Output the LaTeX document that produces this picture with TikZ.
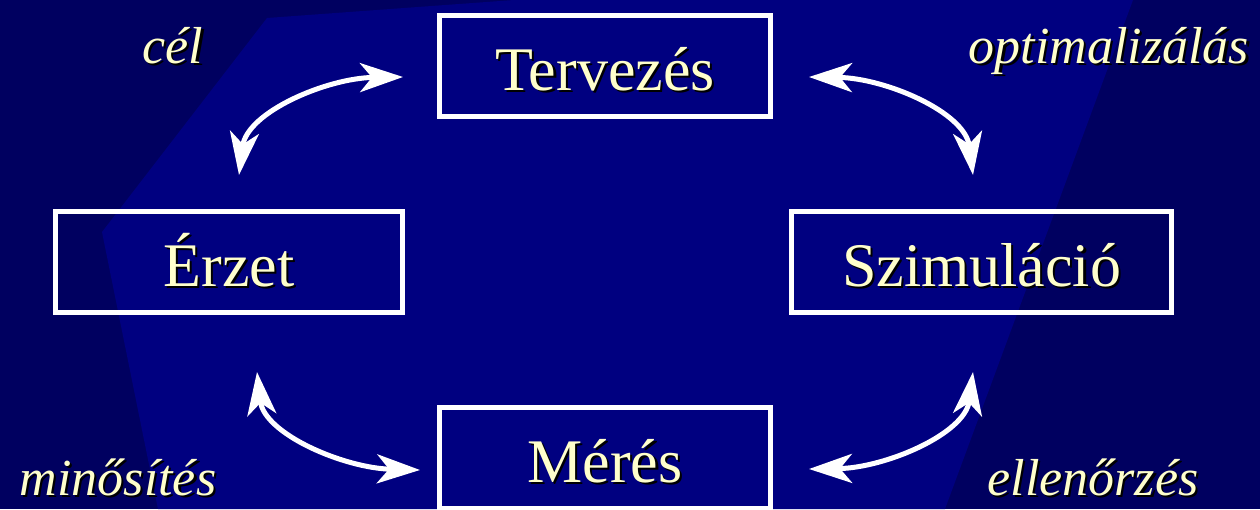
\documentclass[tikz,border=0pt]{standalone}
\usepackage{fontspec}
\setmainfont{Liberation Serif}
\usetikzlibrary{arrows.meta}
\definecolor{bgdark}{RGB}{0,0,96}
\definecolor{bglight}{RGB}{0,0,128}
\definecolor{txtyellow}{RGB}{255,255,204}
\newcommand\shtext[1]{\makebox[0pt][l]{\hspace{2.2pt}\raisebox{-2.2pt}{\color{black}#1}}{\color{txtyellow}#1}}
\tikzset{
  stagebox/.style={draw=white, line width=5pt, inner sep=0pt, minimum height=101pt,
    font=\fontsize{62}{66}\selectfont, text height=52pt, text depth=4pt},
  looplabel/.style={inner sep=0pt, anchor=base, font=\fontsize{52}{56}\selectfont\itshape},
  cyclearrow/.style={draw=white, line width=5pt,
    {Stealth[length=43pt,width=29pt,inset=12pt]}-{Stealth[length=43pt,width=29pt,inset=12pt]}}
}
\begin{document}
\begin{tikzpicture}[x=1pt,y=-1pt]
\useasboundingbox (0,0) rectangle (1260,509);
\fill[bgdark] (0,0) rectangle (1260,509);
\fill[bglight] (267,18) -- (514,0) -- (1133,0) -- (945,509) -- (158,509) -- (102,232) -- cycle;

\node[stagebox, minimum width=331pt] (terv) at (605,66) {\shtext{Tervezés}};
\node[stagebox, minimum width=347pt] (erzet) at (229,262) {\shtext{Érzet}};
\node[stagebox, minimum width=380pt] (szim) at (981.5,262) {\shtext{Szimuláció}};
\node[stagebox, minimum width=331pt] (meres) at (605,458) {\shtext{Mérés}};

\node[looplabel] (cel) at (173,63) {\shtext{cél}};
\node[looplabel] (opt) at (1109,63) {\shtext{optimalizálás}};
\node[looplabel] (min) at (118,495) {\shtext{minősítés}};
\node[looplabel] (ell) at (1093,495) {\shtext{ellenőrzés}};

\coordinate (a1s) at (239,175);
\coordinate (a1e) at (403,77);
\coordinate (a2s) at (809,77);
\coordinate (a2e) at (973,175);
\coordinate (a3s) at (257,372);
\coordinate (a3e) at (420,470);
\coordinate (a4s) at (809,469);
\coordinate (a4e) at (973,372);

\draw[cyclearrow] (a1s) .. controls (247,112) and (327,78) .. (a1e);
\draw[cyclearrow] (a2s) .. controls (885,78) and (965,112) .. (a2e);
\draw[cyclearrow] (a3s) .. controls (264,434) and (344,468) .. (a3e);
\draw[cyclearrow] (a4s) .. controls (885,468) and (965,434) .. (a4e);
\end{tikzpicture}
\end{document}
